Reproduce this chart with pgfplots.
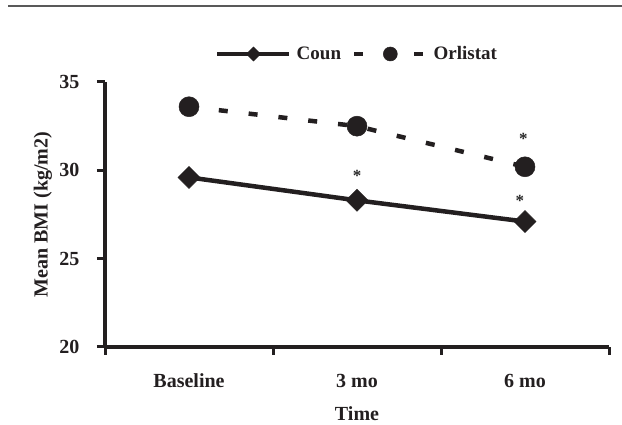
\documentclass[border=0pt]{standalone}
\usepackage{fontspec}
\setmainfont{Liberation Serif}
\usepackage{pgfplots}
\pgfplotsset{compat=1.18}
\definecolor{ink}{RGB}{35,31,32}
\begin{document}
\begin{tikzpicture}[x=1pt,y=1pt]
\useasboundingbox (0,0) rectangle (622,425);
% rule across the top of the figure
\draw[line width=2.5pt, black!65] (8,419) -- (622,419);
\begin{axis}[
    at={(105pt,78pt)}, anchor=south west,
    scale only axis, width=504pt, height=265pt,
    xmin=-0.5, xmax=2.5, ymin=20, ymax=35,
    axis x line=bottom, axis y line=left,
    axis line style={-, line width=3.5pt, ink},
    tick style={ink, line width=3pt},
    tick align=outside, major tick length=8pt,
    xtick={-0.5,0.5,1.5,2.5}, xticklabels={},
    extra x ticks={0,1,2},
    extra x tick labels={Baseline,3 mo,6 mo},
    extra x tick style={major tick length=0pt,
        xticklabel style={anchor=base, yshift=-41pt}},
    ytick={20,25,30,35},
    yticklabels={20,25,30,35},
    yticklabel style={anchor=east, xshift=-14pt},
    tick label style={font=\fontsize{20}{24}\selectfont\bfseries, text=ink},
    xlabel={Time},
    xlabel style={font=\fontsize{20}{24}\selectfont\bfseries, text=ink,
        at={(axis description cs:0.5,0)}, anchor=base, yshift=-74pt},
    ylabel={Mean BMI (kg/m2)},
    ylabel style={font=\fontsize{20}{24}\selectfont\bfseries, text=ink,
        at={(axis description cs:-0.123,0.5)}, anchor=center},
    legend columns=2,
    legend style={draw=none, fill=none, inner sep=0pt,
        at={(axis description cs:0.2183,1.1057)}, anchor=west,
        font=\fontsize{19}{22}\selectfont\bfseries, text=ink,
        nodes={inner sep=0pt},
        /tikz/every odd column/.style={column sep=5pt},
        /tikz/every even column/.style={column sep=11pt}},
    legend cell align=left,
    legend image code/.code={
        \draw[mark repeat=2, mark phase=2, #1]
            plot coordinates {(0pt,0pt) (36pt,0pt) (72pt,0pt)};},
    clip=false,
]
\addplot[ink, line width=4.5pt, mark=square*, mark size=7.8pt,
    mark options={solid, rotate=45, line width=0.5pt},
    legend image post style={mark size=5pt}]
    coordinates {(0,29.6) (1,28.3) (2,27.1)};
\addlegendentry{Coun}
\addplot[ink, line width=4.5pt, dash pattern=on 9pt off 21pt, mark=*, mark size=10pt,
    mark options={solid, line width=0.5pt},
    legend image post style={mark size=7pt}]
    coordinates {(0,33.6) (1,32.5) (2,30.2)};
\addlegendentry{Orlistat}
% significance marks
\node[font=\fontsize{17}{17}\selectfont\bfseries, text=black!85, yshift=-4pt] at (axis cs:1,29.9) {*};
\node[font=\fontsize{17}{17}\selectfont\bfseries, text=black!85, yshift=-4pt] at (axis cs:1.99,32.0) {*};
\node[font=\fontsize{17}{17}\selectfont\bfseries, text=black!85, yshift=-4pt] at (axis cs:1.97,28.5) {*};
\end{axis}
\end{tikzpicture}
\end{document}
